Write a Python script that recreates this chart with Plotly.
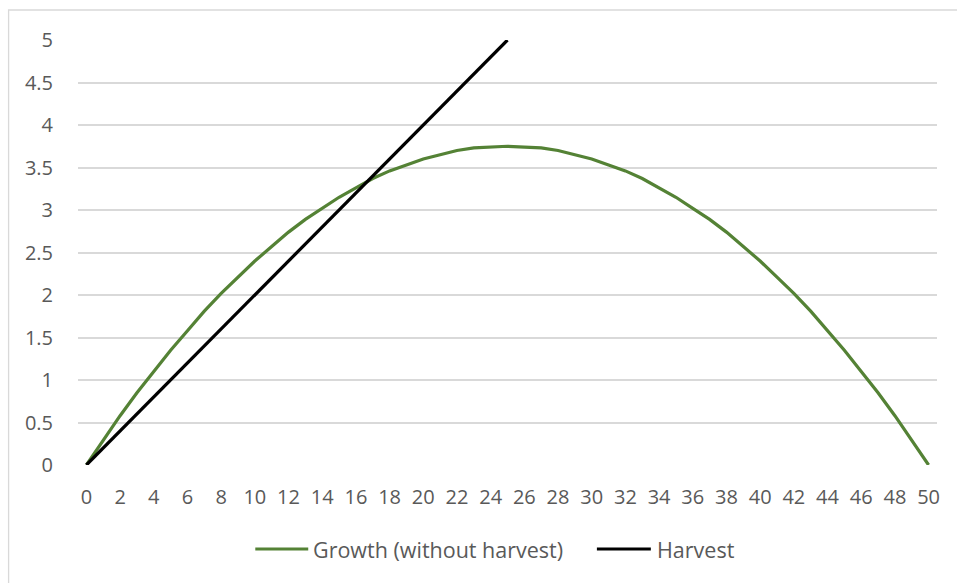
import plotly.graph_objects as go

# Stock size (categories on the x axis)
stock = [0, 1, 2, 3, 4, 5, 6, 7, 8, 9, 10, 11, 12, 13, 14, 15, 16, 17, 18, 19, 20,
         21, 22, 23, 24, 25, 26, 27, 28, 29, 30, 31, 32, 33, 34, 35, 36, 37, 38, 39, 40,
         41, 42, 43, 44, 45, 46, 47, 48, 49, 50]

# Natural growth of the stock when nothing is harvested
growth = [0.00, 0.29, 0.58, 0.85, 1.10, 1.35, 1.58, 1.81, 2.02, 2.21, 2.40,
          2.57, 2.74, 2.89, 3.02, 3.15, 3.26, 3.37, 3.46, 3.53, 3.60,
          3.65, 3.70, 3.73, 3.74, 3.75, 3.74, 3.73, 3.70, 3.65, 3.60,
          3.53, 3.46, 3.37, 3.26, 3.15, 3.02, 2.89, 2.74, 2.57, 2.40,
          2.21, 2.02, 1.81, 1.58, 1.35, 1.10, 0.85, 0.58, 0.29, 0.00]

# Harvest taken at each stock size
harvest_stock = [0, 1, 2, 3, 4, 5, 6, 7, 8, 9, 10, 11, 12, 13, 14, 15, 16, 17, 18,
                 19, 20, 21, 22, 23, 24, 25]
harvest = [0.0, 0.2, 0.4, 0.6, 0.8, 1.0, 1.2, 1.4, 1.6, 1.8, 2.0, 2.2, 2.4, 2.6,
           2.8, 3.0, 3.2, 3.4, 3.6, 3.8, 4.0, 4.2, 4.4, 4.6, 4.8, 5.0]

x_ticks = [0, 2, 4, 6, 8, 10, 12, 14, 16, 18, 20, 22, 24, 26, 28, 30, 32, 34, 36,
           38, 40, 42, 44, 46, 48, 50]
y_ticks = [0, 0.5, 1, 1.5, 2, 2.5, 3, 3.5, 4, 4.5, 5]

series_names = ["Growth (without harvest)", "Harvest"]

GREEN = "#548235"
TEXT = "#595959"
GRID = "#d9d9d9"
FONT = "Open Sans"

fig = go.Figure()
fig.add_trace(go.Scatter(
    x=stock, y=growth, mode="lines", name=series_names[0],
    line=dict(color=GREEN, width=3.2), showlegend=False,
))
fig.add_trace(go.Scatter(
    x=harvest_stock, y=harvest, mode="lines", name=series_names[1],
    line=dict(color="#000000", width=3.2), showlegend=False,
))

W, H = 957, 583
ml, mr, mt, mb = 77.5, 19.5, 40, 118
pw = W - ml - mr
ph = H - mt - mb


def px_x(px):
    return (px - ml) / pw


def px_y(py):
    return (mt + ph - py) / ph


# Light outer frame around the chart area
fig.add_shape(
    type="rect", xref="paper", yref="paper", layer="below",
    x0=px_x(8), x1=px_x(W + 5), y0=px_y(H + 5), y1=px_y(10),
    line=dict(color=GRID, width=1.3), fillcolor="rgba(0,0,0,0)",
)

# Legend drawn below the plot: line sample followed by its label
legend_y = px_y(549)
legend_items = [
    (series_names[0], GREEN, 255, 308, 311),
    (series_names[1], "#000000", 597, 651, 655),
]
for name, color, sx0, sx1, tx in legend_items:
    fig.add_shape(
        type="line", xref="paper", yref="paper",
        x0=px_x(sx0), x1=px_x(sx1), y0=legend_y, y1=legend_y,
        line=dict(color=color, width=3.2),
    )
    fig.add_annotation(
        xref="paper", yref="paper", x=px_x(tx), y=legend_y,
        xanchor="left", yanchor="middle", showarrow=False, text=name,
        font=dict(family=FONT, size=21.5, color=TEXT),
    )

fig.update_layout(
    width=W, height=H,
    margin=dict(l=ml, r=mr, t=mt, b=mb, pad=0),
    paper_bgcolor="white", plot_bgcolor="white",
    font=dict(family=FONT, size=20, color=TEXT),
    showlegend=False,
    xaxis=dict(
        range=[-0.5, 50.5], tickmode="array", tickvals=x_ticks,
        ticktext=[str(v) for v in x_ticks],
        showgrid=False, zeroline=False, showline=False,
        ticks="outside", ticklen=14, tickcolor="rgba(0,0,0,0)",
        tickfont=dict(family=FONT, size=20, color=TEXT),
        fixedrange=True,
    ),
    yaxis=dict(
        range=[0, 5], tickmode="array", tickvals=y_ticks,
        ticktext=["0", "0.5", "1", "1.5", "2", "2.5", "3", "3.5", "4", "4.5", "5"],
        showgrid=True, gridcolor=GRID, gridwidth=1.6,
        zeroline=False, showline=False,
        ticks="outside", ticklen=20, tickcolor="rgba(0,0,0,0)",
        tickfont=dict(family=FONT, size=20, color=TEXT),
        fixedrange=True,
    ),
)

fig.write_html("out.html")
